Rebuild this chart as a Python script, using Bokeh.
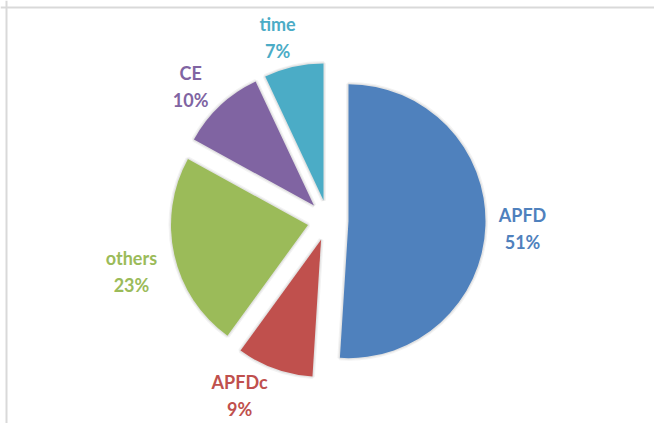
import math
from bokeh.plotting import figure
from bokeh.models import Range1d, Span, ColumnDataSource
from bokeh.core.properties import value
from bokeh.embed import file_html
from bokeh.resources import INLINE

# ---- data ----
labels = ["APFD", "APFDc", "others", "CE", "time"]
percents = [51, 9, 23, 10, 7]
colors = ["#4F81BD", "#C0504D", "#9BBB59", "#8064A2", "#4BACC6"]

# ---- layout / style ----
W, H = 654, 423
CX, CY = 327.5, 203.0      # pie centre (pixels from bottom-left)
R = 137.0                  # radius
EXPLODE = 20.5             # explosion distance
label_angle_nudge = [0.7, 7.0, -1.9, -2.6, -2.8]   # degrees
label_dist = [194.7, 196.0, 203.0, 191.6, 190.0]
LINE_GAP = 13.5
FONT = "Lato"
FONT_SIZE = "18px"

p = figure(width=W, height=H, output_backend="svg", toolbar_location=None,
           x_range=Range1d(0, W), y_range=Range1d(0, H), min_border=0)
p.axis.visible = False
p.grid.visible = False
p.outline_line_color = None
p.background_fill_color = "white"
p.border_fill_color = "white"

total = float(sum(percents))
xs, ys, starts, ends = [], [], [], []
lx, ly = [], []
cum = 0.0
for i, v in enumerate(percents):
    t1 = cum / total * 360.0
    t2 = (cum + v) / total * 360.0
    cum += v
    bis = math.radians((t1 + t2) / 2.0)
    xs.append(CX + EXPLODE * math.sin(bis))
    ys.append(CY + EXPLODE * math.cos(bis))
    starts.append(math.radians(90.0 - t1))
    ends.append(math.radians(90.0 - t2))
    la = math.radians((t1 + t2) / 2.0 + label_angle_nudge[i])
    lx.append(CX + label_dist[i] * math.sin(la))
    ly.append(CY + label_dist[i] * math.cos(la))

src = ColumnDataSource(dict(x=xs, y=ys, s=starts, e=ends, color=colors,
                            name=labels, pct=[f"{v}%" for v in percents],
                            lx=lx, ly_top=[y + LINE_GAP for y in ly],
                            ly_bot=[y - LINE_GAP for y in ly]))

# soft shadow halo
p.wedge(x="x", y="y", radius=R, start_angle="s", end_angle="e", direction="clock",
        fill_color=None, line_color="#999999", line_alpha=0.12, line_width=5, source=src)
p.wedge(x="x", y="y", radius=R, start_angle="s", end_angle="e", direction="clock",
        fill_color=None, line_color="#999999", line_alpha=0.18, line_width=2.5, source=src)
p.wedge(x="x", y="y", radius=R, start_angle="s", end_angle="e", direction="clock",
        fill_color="color", line_color=None, source=src)

p.text(x="lx", y="ly_top", text="name", text_color="color", source=src,
       text_font=value(FONT), text_font_size=FONT_SIZE, text_font_style="bold",
       text_align="center", text_baseline="middle")
p.text(x="lx", y="ly_bot", text="pct", text_color="color", source=src,
       text_font=value(FONT), text_font_size=FONT_SIZE, text_font_style="bold",
       text_align="center", text_baseline="middle")

# chart border (top and left only visible)
p.add_layout(Span(location=H - 7, dimension="width", line_color="#D9D9D9", line_width=2))
p.add_layout(Span(location=6, dimension="height", line_color="#D9D9D9", line_width=2))

open("out.html", "w").write(file_html(p, INLINE))
